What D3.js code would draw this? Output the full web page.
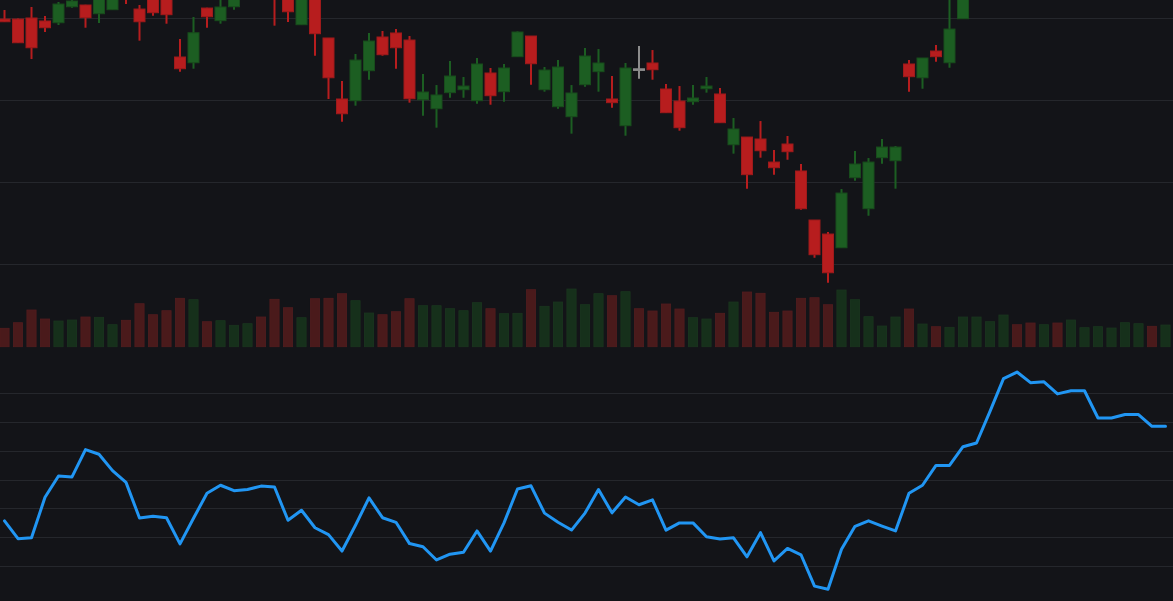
<!DOCTYPE html>
<html>
<head>
<meta charset="utf-8">
<script src="https://cdn.jsdelivr.net/npm/d3@7"></script>
<style>
  html, body { margin: 0; padding: 0; background: #131418; overflow: hidden; }
  svg { display: block; }
</style>
</head>
<body>
<svg id="chart" width="1173" height="601"></svg>
<script>
// candle data, one entry per bar (87 bars)
const opens = [
  129.91, 129.91, 130.04, 129.67, 129.46, 131.41, 131.62, 130.56, 131.05, 133.94,
  131.13, 132.84, 132.60, 125.28, 124.58, 131.25, 129.71, 131.41, 132.84, 134.91,
  134.06, 133.45, 129.22, 132.72, 127.60, 120.16, 119.95, 123.61, 127.72, 128.21,
  127.35, 120.07, 118.97, 120.93, 121.29, 119.95, 123.33, 121.05, 125.32, 127.84,
  121.29, 119.22, 118.00, 121.90, 123.49, 120.16, 116.90, 123.84, 124.55, 121.38,
  119.91, 119.83, 121.41, 120.77, 114.58, 115.52, 115.28, 112.47, 114.67, 111.38,
  105.40, 103.69, 102.02, 110.56, 106.78, 113.00, 112.63, 124.43, 122.75, 126.01,
  124.58, 129.95, 133.5, 136.4, 140.5, 148.2, 147.6, 146.3, 146.9, 145.2,
  145.8, 142.6, 142.9, 143.0, 143.5, 143.4, 142.4
];
const highs = [
  131.01, 129.97, 131.38, 130.28, 131.99, 132.35, 131.65, 133.21, 133.45, 134.43,
  131.62, 133.21, 132.96, 127.47, 130.16, 131.30, 132.47, 132.96, 135.16, 135.40,
  134.43, 133.82, 133.33, 132.96, 127.60, 122.35, 125.65, 128.21, 128.45, 128.69,
  127.84, 123.21, 121.86, 124.79, 122.84, 125.16, 123.94, 124.43, 128.40, 127.84,
  124.06, 124.91, 121.86, 126.38, 126.25, 122.96, 124.55, 126.62, 126.13, 121.99,
  121.74, 121.86, 122.84, 121.50, 117.84, 115.52, 117.47, 113.94, 115.65, 112.23,
  105.40, 103.94, 109.18, 113.82, 112.96, 115.28, 114.43, 124.91, 125.16, 126.74,
  132.84, 133.94, 136.8, 140.9, 146.6, 149.1, 148.3, 147.9, 147.4, 146.7,
  146.9, 143.9, 143.7, 144.3, 144.2, 143.8, 143.1
];
const lows = [
  129.55, 126.99, 125.03, 128.33, 129.18, 131.29, 128.85, 129.43, 131.05, 131.74,
  127.27, 130.32, 129.34, 123.49, 123.85, 128.85, 129.34, 131.05, 132.47, 132.60,
  129.10, 129.55, 129.22, 125.44, 120.16, 117.39, 119.34, 122.51, 125.44, 123.85,
  119.71, 118.12, 116.66, 120.31, 120.31, 119.58, 119.46, 119.83, 125.32, 121.90,
  121.05, 118.97, 115.93, 121.66, 121.05, 119.10, 115.68, 122.63, 122.51, 118.49,
  116.29, 119.46, 120.93, 117.27, 113.49, 109.22, 113.00, 110.93, 112.75, 106.66,
  100.80, 97.75, 102.02, 110.19, 105.92, 112.27, 109.22, 121.05, 121.41, 124.71,
  123.97, 129.95, 133.1, 136.0, 140.2, 146.5, 145.4, 145.8, 144.6, 144.8,
  145.1, 141.8, 142.2, 142.5, 142.9, 142.0, 141.9
];
const closes = [
  129.58, 127.02, 126.41, 128.85, 131.74, 132.11, 130.07, 132.72, 132.96, 132.60,
  129.58, 130.68, 130.44, 123.85, 128.24, 130.19, 131.38, 132.60, 134.67, 133.21,
  132.72, 130.80, 132.96, 128.12, 122.75, 118.36, 124.91, 127.23, 125.56, 126.41,
  120.19, 121.01, 120.65, 122.96, 121.74, 124.43, 120.56, 123.94, 128.33, 124.46,
  123.69, 124.06, 120.89, 125.40, 124.55, 119.71, 123.94, 123.84, 123.73, 118.49,
  116.66, 120.28, 121.74, 117.27, 116.50, 110.93, 113.85, 111.78, 113.73, 106.78,
  101.17, 98.97, 108.69, 112.23, 112.47, 114.30, 114.30, 122.88, 125.16, 125.32,
  128.69, 133.45, 136.2, 140.1, 145.8, 147.3, 146.2, 147.0, 145.1, 145.9,
  146.0, 143.0, 143.1, 143.6, 143.7, 142.5, 142.6
];
// volume in thousands
const volumes = [
  18.4, 24.0, 36.7, 27.7, 25.7, 26.7, 29.7, 29.4, 22.0, 26.4,
  43.0, 32.0, 36.0, 48.4, 47.0, 25.0, 26.0, 21.4, 23.0, 29.7,
  47.4, 39.0, 29.0, 48.0, 48.4, 53.0, 46.0, 33.7, 32.0, 35.0,
  48.0, 41.0, 41.0, 38.0, 36.0, 44.0, 38.0, 33.0, 33.4, 57.0,
  40.4, 44.7, 57.7, 42.0, 53.0, 51.0, 55.0, 38.0, 35.7, 42.7,
  37.7, 29.0, 27.7, 33.4, 44.7, 54.7, 53.4, 34.4, 35.7, 48.4,
  49.0, 42.0, 56.7, 47.0, 30.0, 20.7, 29.7, 37.7, 22.7, 20.0,
  19.4, 29.7, 29.7, 25.0, 31.7, 22.0, 23.7, 22.0, 23.7, 26.7,
  19.0, 20.0, 18.7, 24.0, 23.0, 20.4, 21.7
];
// oscillator in the lower pane
const rsi = [
  35.6, 29.4, 29.7, 43.8, 51.2, 50.9, 60.4, 58.8, 53.1, 49.0,
  36.6, 37.2, 36.7, 27.6, 36.5, 45.2, 48.0, 46.1, 46.5, 47.7,
  47.4, 35.8, 39.3, 33.2, 30.8, 25.1, 34.1, 43.6, 36.7, 35.1,
  27.7, 26.6, 22.0, 24.0, 24.7, 32.1, 25.1, 34.9, 46.7, 47.8,
  38.3, 35.1, 32.4, 38.3, 46.5, 38.4, 43.9, 41.2, 42.9, 32.4,
  34.9, 34.9, 30.1, 29.3, 29.7, 23.1, 31.5, 21.7, 26.0, 23.8,
  12.9, 11.8, 25.7, 33.7, 35.6, 33.8, 32.1, 45.2, 48.0, 54.9,
  54.9, 61.4, 62.7, 73.7, 85.1, 87.4, 83.7, 84.0, 79.8, 80.9,
  80.9, 71.4, 71.4, 72.6, 72.6, 68.5, 68.5
];
const priceTicks = [100, 110, 120, 130];
const rsiTicks = [20, 30, 40, 50, 60, 70, 80];

const bars = opens.map((o, i) => ({
  i, open: o, high: highs[i], low: lows[i], close: closes[i], volume: volumes[i]
}));

const svg = d3.select("#chart");
const width = +svg.attr("width");

const x = d3.scaleLinear().domain([0, bars.length - 1]).range([4.5, 1165.5]);
const yPrice = d3.scaleLinear().domain([100, 130]).range([264.3, 18.3]);
const yVol = d3.scaleLinear().domain([0, 60]).range([346.7, 286.7]);
const yRsi = d3.scaleLinear().domain([20, 80]).range([565.7, 393.3]);

const candleColor = d => d.close > d.open ? "#1c5e22" : d.close < d.open ? "#b71d1e" : "#8c8c8c";
const candleEdge = d => d.close > d.open ? "#184c1c" : d.close < d.open ? "#9e1a1b" : "#8c8c8c";

// grid
const grid = svg.append("g").attr("stroke", "#25272c").attr("stroke-width", 1);
grid.selectAll(".gp")
  .data(priceTicks)
  .enter()
  .append("line")
  .attr("x1", 0).attr("x2", width)
  .attr("y1", d => Math.round(yPrice(d)) + 0.5)
  .attr("y2", d => Math.round(yPrice(d)) + 0.5);
grid.selectAll(".gr")
  .data(rsiTicks)
  .enter()
  .append("line")
  .attr("x1", 0).attr("x2", width)
  .attr("y1", d => Math.round(yRsi(d)) + 0.5)
  .attr("y2", d => Math.round(yRsi(d)) + 0.5);

// volume
svg.append("g").selectAll("rect")
  .data(bars)
  .enter()
  .append("rect")
  .attr("x", d => x(d.i) - 4.6)
  .attr("width", 9.2)
  .attr("y", d => yVol(d.volume))
  .attr("height", d => yVol(0) - yVol(d.volume))
  .attr("fill", d => d.close > d.open ? "#16301b" : "#4a1a1b")
  .attr("stroke", d => d.close > d.open ? "#1a361e" : "#521d1e")
  .attr("stroke-width", 0.8);

// candles
const candles = svg.append("g").selectAll("g")
  .data(bars)
  .enter()
  .append("g");

candles.append("line")
  .attr("x1", d => x(d.i)).attr("x2", d => x(d.i))
  .attr("y1", d => yPrice(d.high))
  .attr("y2", d => yPrice(d.low))
  .attr("stroke", candleColor)
  .attr("stroke-width", 2);

candles.append("rect")
  .attr("x", d => x(d.i) - 5.5)
  .attr("width", 11)
  .attr("y", d => yPrice(Math.max(d.open, d.close)))
  .attr("height", d => Math.max(1.6, Math.abs(yPrice(d.open) - yPrice(d.close))))
  .attr("fill", candleColor)
  .attr("stroke", candleEdge)
  .attr("stroke-width", 1);

// oscillator line
const line = d3.line()
  .x((d, i) => x(i))
  .y(d => yRsi(d));

svg.append("path")
  .datum(rsi)
  .attr("d", line)
  .attr("fill", "none")
  .attr("stroke", "#2196f3")
  .attr("stroke-width", 3)
  .attr("stroke-linejoin", "round")
  .attr("stroke-linecap", "round");
</script>
</body>
</html>
